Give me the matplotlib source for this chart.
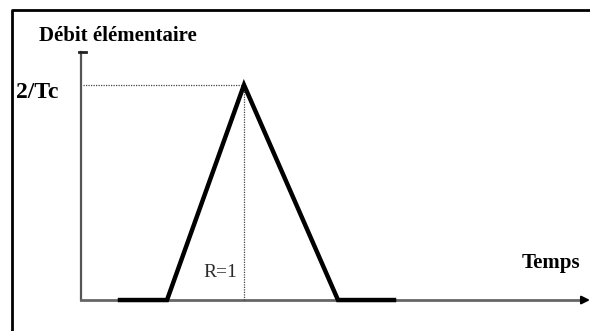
import matplotlib
matplotlib.use("Agg")
import matplotlib.pyplot as plt

# Data (arbitrary time units; rate in units of 1/Tc)
time = [0.78, 1.72, 3.26, 5.14, 6.26]
rate = [0, 0, 2, 0, 0]
peak_time = 3.26
peak_rate = 2
y_label = "Débit élémentaire"
x_label = "Temps"
peak_label = "2/Tc"
r_label = "R=1"

fig = plt.figure(figsize=(5.9, 3.31), dpi=100)
ax = fig.add_axes([0, 0, 1, 1])
ax.set_xlim(-1.62, 10.18)
ax.set_ylim(-0.288, 2.79)
ax.axis("off")

serif = "Liberation Serif"

# frame border (top and left visible)
ax.plot([-1.39, -1.39, 10.5], [-0.5, 2.70, 2.70], color="black", lw=2, clip_on=False,
        solid_capstyle="butt")

# axes
ax.plot([0, 0], [0, 2.31], color="#555555", lw=1.6)
ax.plot([-0.05, 0.09], [2.31, 2.31], color="#222222", lw=2)
ax.plot([0, 10.0], [0, 0], color="#666666", lw=2)
ax.annotate("", xy=(10.18, 0), xytext=(10.0, 0),
            arrowprops=dict(arrowstyle="-|>", color="black", lw=1.5,
                            mutation_scale=12, shrinkA=0, shrinkB=0))

# dotted guides
ax.plot([0.04, peak_time], [peak_rate, peak_rate], color="#444444", lw=0.9, ls=(0, (1, 1)))
ax.plot([peak_time, peak_time], [0, peak_rate], color="#444444", lw=0.9, ls=(0, (1, 1)))

# signal
ax.plot(time, rate, color="black", lw=3.2, solid_joinstyle="miter")

# texts
ax.text(-0.84, 2.41, y_label, fontsize=15, fontweight="bold", family=serif,
        ha="left", va="baseline")
ax.text(-1.30, 1.88, peak_label, fontsize=17, fontweight="bold", family=serif,
        ha="left", va="baseline")
ax.text(8.82, 0.30, x_label, fontsize=15, fontweight="bold", family=serif,
        ha="left", va="baseline")
ax.text(2.44, 0.214, r_label, fontsize=14, family=serif, color="#2a2a2a",
        ha="left", va="baseline")

fig.savefig("out.png", dpi=100)
